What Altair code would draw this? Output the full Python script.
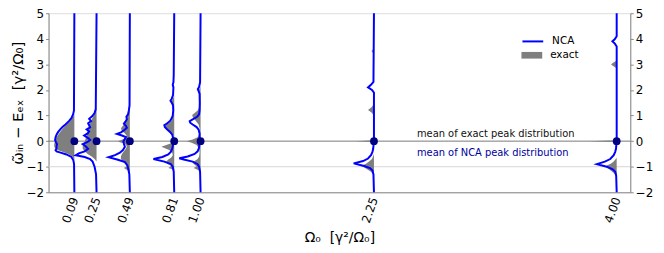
import altair as alt
import pandas as pd

# ---- data ----
positions = [0.09, 0.25, 0.49, 0.81, 1.00, 2.25, 4.00]

# NCA spectral curves: (energy, intensity) per Omega_0
nca_y = [
    [-2, -0.9, -0.75, -0.62, -0.52, -0.45, -0.4, -0.35, -0.28, -0.2, -0.12, -0.05, 0.05, 0.15, 0.25, 0.35, 0.45, 0.55, 0.65, 0.78, 0.9, 1.05, 1.2, 5],
    [-2, -1.3, -1.0, -0.8, -0.7, -0.62, -0.55, -0.48, -0.4, -0.3, -0.2, -0.12, -0.03, 0.05, 0.12, 0.22, 0.3, 0.38, 0.46, 0.54, 0.62, 0.7, 0.78, 0.87, 0.97, 1.1, 1.25, 5],
    [-2, -1.3, -1.1, -0.95, -0.82, -0.73, -0.63, -0.55, -0.45, -0.35, -0.22, -0.1, 0.0, 0.08, 0.16, 0.22, 0.28, 0.34, 0.42, 0.52, 0.6, 0.68, 0.76, 0.85, 0.95, 1.05, 1.2, 1.4, 5],
    [-2, -1.2, -1.0, -0.9, -0.8, -0.7, -0.62, -0.52, -0.42, -0.3, -0.1, 0.1, 0.25, 0.35, 0.45, 0.55, 0.62, 0.7, 0.8, 0.9, 1.0, 1.2, 1.4, 1.5, 1.58, 1.66, 1.8, 2.1, 2.2, 2.3, 2.6, 5],
    [-2, -1.2, -1.0, -0.9, -0.8, -0.72, -0.67, -0.6, -0.5, -0.4, -0.25, 0.0, 0.3, 0.45, 0.55, 0.65, 0.72, 0.78, 0.85, 0.95, 1.05, 1.2, 1.5, 1.85, 1.95, 2.03, 2.12, 2.3, 5],
    [-2, -1.3, -1.15, -1.05, -0.97, -0.87, -0.78, -0.68, -0.55, -0.42, -0.3, 0.0, 1.9, 2.0, 2.1, 2.2, 2.32, 5],
    [-2, -1.35, -1.2, -1.1, -1.0, -0.9, -0.8, -0.7, -0.55, -0.42, -0.3, 0.0, 3.7, 3.82, 3.9, 3.98, 4.1, 5],
]
nca_w = [
    [0, 0.3, 1, 3, 8, 14, 18, 19, 18, 18, 17.5, 18.5, 19.5, 19, 18, 16.5, 14.5, 12, 9, 5.5, 3, 1.2, 0.4, 0],
    [0, 0.5, 2, 4, 6.5, 12, 21, 18, 12, 8.5, 11, 14, 9, 6.5, 8.5, 12.5, 9, 7.5, 10, 6.5, 7.5, 8.5, 5.5, 7.5, 4.5, 2, 0.8, 0],
    [0, 0.5, 1.5, 2.5, 5, 12, 21.5, 15, 10, 7, 5, 6, 6.5, 5, 4, 8, 13, 9, 6, 3, 4, 6, 4.5, 3, 3.5, 1.8, 1, 0.3, 0],
    [0, 0.5, 1.5, 3.5, 10, 21, 12, 6, 3.5, 2, 1, 1, 2, 4, 7, 9.5, 10, 7, 4, 2.5, 1.5, 1, 1.2, 2.5, 3.8, 2.5, 1.2, 0.8, 1.5, 0.8, 0.5, 0],
    [0, 0.5, 1.5, 3, 8, 17, 21.5, 13, 6, 3, 1.5, 1, 1, 2, 4, 8, 10.5, 11, 8, 3.5, 1.5, 1, 0.8, 1, 2, 2.8, 1.5, 0.5, 0],
    [0, 0.5, 1.5, 4, 10, 20.5, 11, 6, 3, 1.5, 0.8, 0, 0, 2, 6, 3, 0.5, 0],
    [0, 0.5, 1.5, 4, 10, 20, 12, 6.5, 3, 1.5, 0.7, 0, 0, 2, 4.3, 2, 0, 0],
]

# exact spectral curves
exact_y = [
    [-0.75, -0.6, -0.5, -0.42, -0.35, -0.25, -0.15, -0.05, 0.05, 0.15, 0.3, 0.45, 0.6, 0.75, 0.9, 1.05],
    [-0.8, -0.7, -0.6, -0.5, -0.4, -0.3, -0.2, -0.1, 0.0, 0.1, 0.2, 0.35, 0.5, 0.65, 0.8, 0.95, 1.1, 1.3],
    [-1.25, -1.15, -1.05, -0.98, -0.9, -0.8, -0.7, -0.6, -0.5, -0.4, -0.3, -0.2, -0.1, -0.04, 0.0, 0.05, 0.12, 0.2, 0.3, 0.4, 0.5, 0.6, 0.7, 0.8, 0.9, 1.0, 1.15, 1.3, 1.5],
    [-1.2, -1.1, -1.05, -1.0, -0.95, -0.88, -0.8, -0.72, -0.64, -0.55, -0.45, -0.35, -0.27, -0.22, -0.15, -0.08, 0.0, 0.1, 0.25, 0.38, 0.48, 0.56, 0.64, 0.72, 0.82, 0.95, 1.1, 1.3, 1.45, 1.55, 1.62, 1.7, 1.8],
    [-1.2, -1.12, -1.05, -0.98, -0.92, -0.85, -0.78, -0.7, -0.6, -0.45, -0.3, -0.15, -0.06, 0.0, 0.06, 0.15, 0.3, 0.5, 0.65, 0.75, 0.85, 0.95, 1.02, 1.1, 1.2, 1.35, 1.6, 1.85, 1.95, 2.05, 2.15],
    [-1.35, -1.2, -1.1, -1.0, -0.95, -0.88, -0.8, -0.7, -0.5, -0.03, 0.0, 0.03, 1.0, 1.12, 1.22, 1.32, 1.45, 3.4, 3.52, 3.62],
    [-1.4, -1.25, -1.12, -1.02, -0.95, -0.88, -0.8, -0.65, -0.03, 0.0, 0.03, 2.85, 2.95, 3.0, 3.05, 3.15],
]
exact_w = [
    [0, 2, 6, 12, 17, 20, 20.5, 20, 19.5, 18, 15.5, 12.5, 9, 5, 2, 0],
    [0, 2, 5, 9, 12, 14, 14, 13, 12, 11, 10, 9, 8, 7, 5.5, 3.5, 1.5, 0],
    [0, 2, 6, 3, 4, 7, 9, 9, 8, 6, 4, 3, 5, 10, 12, 8, 4, 3, 5, 8, 9, 7, 5, 4, 3, 2.5, 1.5, 1, 0],
    [0, 2, 6, 4, 3, 7, 8, 6, 3, 1.5, 2, 5, 10, 13, 8, 3, 1, 0.5, 1, 4, 9, 10.5, 8, 5, 2.5, 1.2, 0.7, 0.5, 1.5, 3, 2, 0.8, 0],
    [0, 3, 7, 4, 6, 8, 6, 3, 1.5, 1, 1.5, 4, 9, 14, 8, 3, 1, 1, 2, 4, 6, 8, 8.5, 6, 3, 1, 0.5, 1, 2.5, 1, 0],
    [0, 3, 7, 11, 12, 8, 5, 2, 0, 0, 19, 0, 0, 2.5, 6, 2.5, 0, 0, 2.5, 0],
    [0, 3, 7, 11, 10, 6, 3, 0, 0, 28, 0, 0, 4, 5.7, 4, 0],
]

mean_exact = 0.0
mean_nca = -1.0
amp = 1 / 140.2  # intensity -> Omega_0 offset

# ---- tables ----
nca_rows, exact_rows = [], []
for i, p in enumerate(positions):
    for k, (yy, ww) in enumerate(zip(nca_y[i], nca_w[i])):
        nca_rows.append({"dist": i, "k": k, "pos": p, "e": yy, "xl": p - ww * amp, "series": "NCA"})
    for k, (yy, ww) in enumerate(zip(exact_y[i], exact_w[i])):
        exact_rows.append({"dist": i, "k": k, "pos": p, "e": yy, "xl": p - ww * amp, "kind": "exact"})
nca_df = pd.DataFrame(nca_rows)
exact_df = pd.DataFrame(exact_rows)
dots_df = pd.DataFrame({"pos": positions, "e": [mean_exact] * len(positions)})
rules_df = pd.DataFrame({"e": [mean_exact, mean_nca], "c": ["#777777", "#d4d4d4"]})
text1_df = pd.DataFrame({"pos": [2.56], "e": [mean_exact], "label": ["mean of exact peak distribution"]})
text2_df = pd.DataFrame({"pos": [2.56], "e": [mean_nca], "label": ["mean of NCA peak distribution"]})

xscale = alt.Scale(domain=[-0.096, 4.098], nice=False, zero=False)
yscale = alt.Scale(domain=[-2, 5], nice=False, zero=False)
font = "DejaVu Sans"
NB = "\u00a0"

x_axis = alt.Axis(values=positions, format=".2f", labelAngle=290, labelAlign="right",
                  labelBaseline="middle", labelFontSize=12, labelPadding=5, ticks=False,
                  title=f"Ω₀{NB}{NB}[γ²/Ω₀]", titleFontSize=14, titleFontWeight="normal",
                  titlePadding=7, grid=False)
y_left = alt.Axis(values=list(range(-2, 6)), labelFontSize=12, tickSize=3, grid=False,
                  title=f"ω̃ᵢₙ − Eₑₓ{NB}{NB}[γ²/Ω₀]", titleFontSize=15, titleFontWeight="normal",
                  titlePadding=1)
y_right = alt.Axis(values=list(range(-2, 6)), labelFontSize=12, tickSize=3, grid=False,
                   orient="right", title=None, labelPadding=2)

rules = alt.Chart(rules_df).mark_rule(strokeWidth=1).encode(
    y=alt.Y("e:Q", scale=yscale, axis=y_left),
    color=alt.Color("c:N", scale=None),
)

areas = alt.Chart(exact_df).mark_area(orient="horizontal", opacity=1).encode(
    y=alt.Y("e:Q", scale=yscale, axis=None),
    x=alt.X("xl:Q", scale=xscale, axis=x_axis, stack=None),
    x2="pos:Q",
    detail="dist:N",
    fill=alt.Fill("kind:N", scale=alt.Scale(domain=["exact"], range=["#7f7f7f"]),
                  legend=alt.Legend(orient="none", legendX=478, legendY=32, title=None,
                                    symbolType="M-1,-0.32H1V0.32H-1Z", symbolSize=441,
                                    symbolStrokeWidth=0, labelFontSize=10.5, labelFont=font,
                                    labelOffset=8, symbolOpacity=1)),
)

lines = alt.Chart(nca_df).mark_line(strokeWidth=2).encode(
    y=alt.Y("e:Q", scale=yscale, axis=None),
    x=alt.X("xl:Q", scale=xscale, axis=x_axis),
    detail="dist:N",
    order=alt.Order("k:Q"),
    stroke=alt.Stroke("series:N", scale=alt.Scale(domain=["NCA"], range=["#0000ff"]),
                      legend=alt.Legend(orient="none", legendX=478, legendY=17, title=None,
                                        symbolType="stroke", symbolSize=441,
                                        symbolStrokeWidth=2, labelFontSize=10.5,
                                        labelFont=font, labelOffset=8)),
)

dots = alt.Chart(dots_df).mark_circle(size=62, opacity=1, color="#000080").encode(
    x=alt.X("pos:Q", scale=xscale, axis=x_axis),
    y=alt.Y("e:Q", scale=yscale, axis=y_right),
)

text1 = alt.Chart(text1_df).mark_text(align="left", baseline="bottom", fontSize=10,
                                      font=font, color="#111111", dy=-2).encode(
    x=alt.X("pos:Q", scale=xscale, axis=x_axis),
    y=alt.Y("e:Q", scale=yscale, axis=None),
    text="label:N",
)
text2 = alt.Chart(text2_df).mark_text(align="left", baseline="bottom", fontSize=10,
                                      font=font, color="#0000a0", dy=-9).encode(
    x=alt.X("pos:Q", scale=xscale, axis=x_axis),
    y=alt.Y("e:Q", scale=yscale, axis=None),
    text="label:N",
)

chart = alt.layer(rules, areas, lines, dots, text1, text2).resolve_axis(
    y="independent"
).resolve_legend(fill="independent", stroke="independent").properties(
    width=588, height=181, autosize="none",
    padding={"left": 41, "top": 4, "right": 26, "bottom": 52},
).configure_view(stroke="#888888").configure_axis(
    domainColor="#888888", tickColor="#888888", labelColor="#000000",
    labelFont=font, titleFont=font, titleColor="#000000",
).configure(font=font)

chart.save("out.html", embed_options={"renderer": "svg", "actions": False})
